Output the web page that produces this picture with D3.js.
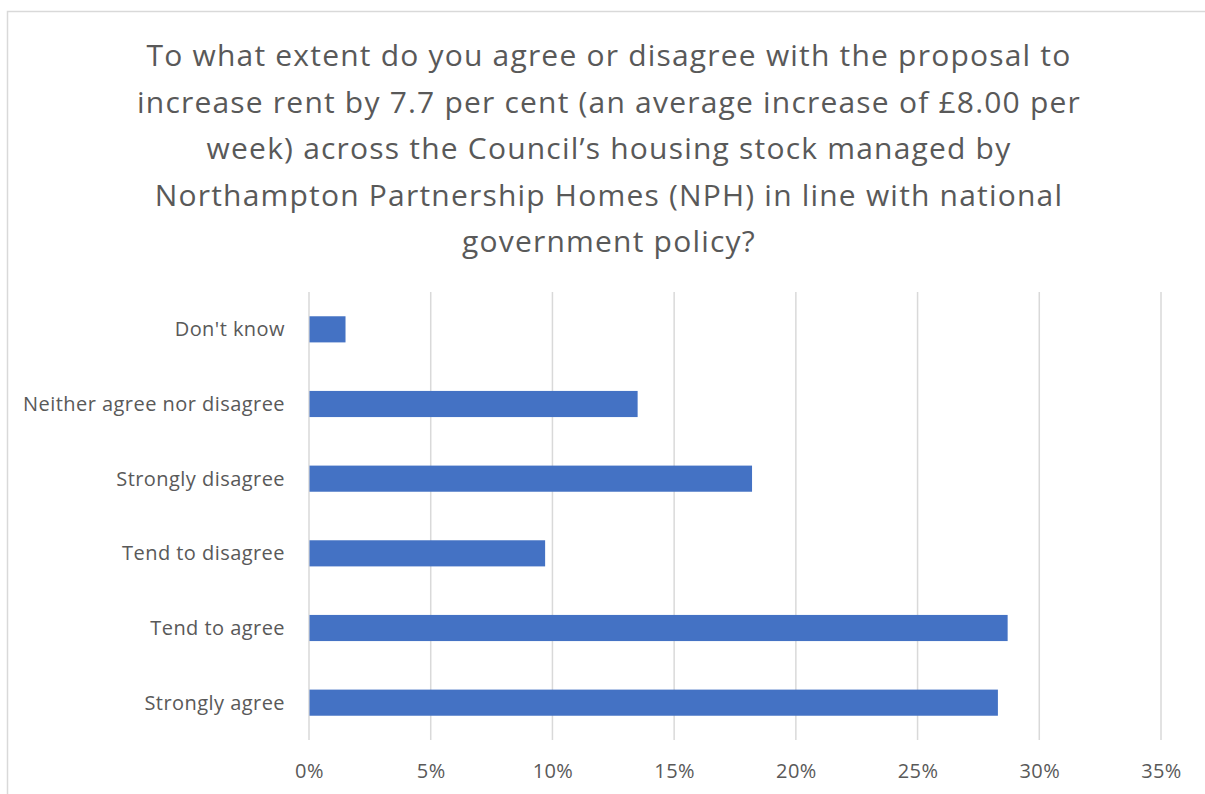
<!DOCTYPE html>
<html>
<head>
<meta charset="utf-8">
<script src="https://cdn.jsdelivr.net/npm/d3@7"></script>
<style>
  html, body { margin: 0; padding: 0; background: #fff; }
  svg { display: block; }
  text { font-family: "Open Sans", "Liberation Sans", sans-serif; fill: #595959; }
</style>
</head>
<body>
<svg id="chart" width="1205" height="794"></svg>
<script>
// Survey responses (share of respondents)
const categories = [
  "Don't know",
  "Neither agree nor disagree",
  "Strongly disagree",
  "Tend to disagree",
  "Tend to agree",
  "Strongly agree"
];
const values = [1.5, 13.5, 18.2, 9.7, 28.7, 28.3];
const tickValues = [0, 5, 10, 15, 20, 25, 30, 35];
const titleLines = [
  "To what extent do you agree or disagree with the proposal to",
  "increase rent by 7.7 per cent (an average increase of £8.00 per",
  "week) across the Council’s housing stock managed by",
  "Northampton Partnership Homes (NPH) in line with national",
  "government policy?"
];

const svg = d3.select("#chart");
const W = 1205, H = 794;

// chart area frame
svg.append("rect")
  .attr("x", 7.5).attr("y", 11.5)
  .attr("width", W).attr("height", H)
  .attr("fill", "#fff")
  .attr("stroke", "#d9d9d9").attr("stroke-width", 1.5);

// title
const title = svg.append("g").attr("class", "title");
titleLines.forEach((line, i) => {
  title.append("text")
    .attr("x", 609).attr("y", 66 + i * 46.6)
    .attr("text-anchor", "middle")
    .attr("font-size", 30)
    .attr("letter-spacing", 1.2)
    .text(line);
});

const plot = { left: 309, right: 1161, top: 292, bottom: 740 };

const x = d3.scaleLinear().domain([0, 35]).range([plot.left, plot.right]);
const y = d3.scaleBand().domain(categories).range([plot.top, plot.bottom]).paddingInner(0.65).paddingOuter(0.325);

// vertical gridlines
svg.append("g")
  .selectAll("line")
  .data(tickValues)
  .join("line")
  .attr("x1", d => x(d)).attr("x2", d => x(d))
  .attr("y1", plot.top).attr("y2", plot.bottom)
  .attr("stroke", "#d9d9d9").attr("stroke-width", 1.5);

// bars
svg.append("g")
  .selectAll("rect")
  .data(categories.map((c, i) => ({ c, v: values[i] })))
  .join("rect")
  .attr("x", x(0) + 0.5)
  .attr("y", d => y(d.c))
  .attr("width", d => x(d.v) - x(0) - 0.5)
  .attr("height", y.bandwidth())
  .attr("fill", "#4472c4");

// x axis labels
const xAxis = d3.axisBottom(x)
  .tickValues(tickValues)
  .tickFormat(d => d + "%")
  .tickSize(0)
  .tickPadding(0);
const gx = svg.append("g")
  .attr("transform", `translate(0,${plot.bottom})`)
  .call(xAxis);
gx.select(".domain").remove();
gx.selectAll("text")
  .attr("y", 38)
  .attr("dy", 0)
  .attr("font-size", 20)
  .attr("letter-spacing", 0.4)
  .attr("font-family", null)
  .style("fill", "#595959");

// y axis labels
const yAxis = d3.axisLeft(y).tickSize(0).tickPadding(0);
const gy = svg.append("g")
  .attr("transform", `translate(285,0)`)
  .call(yAxis);
gy.select(".domain").remove();
gy.selectAll("text")
  .attr("x", 0)
  .attr("dy", "0.35em")
  .attr("font-size", 20)
  .attr("letter-spacing", 0.45)
  .attr("font-family", null)
  .style("fill", "#595959");
</script>
</body>
</html>
